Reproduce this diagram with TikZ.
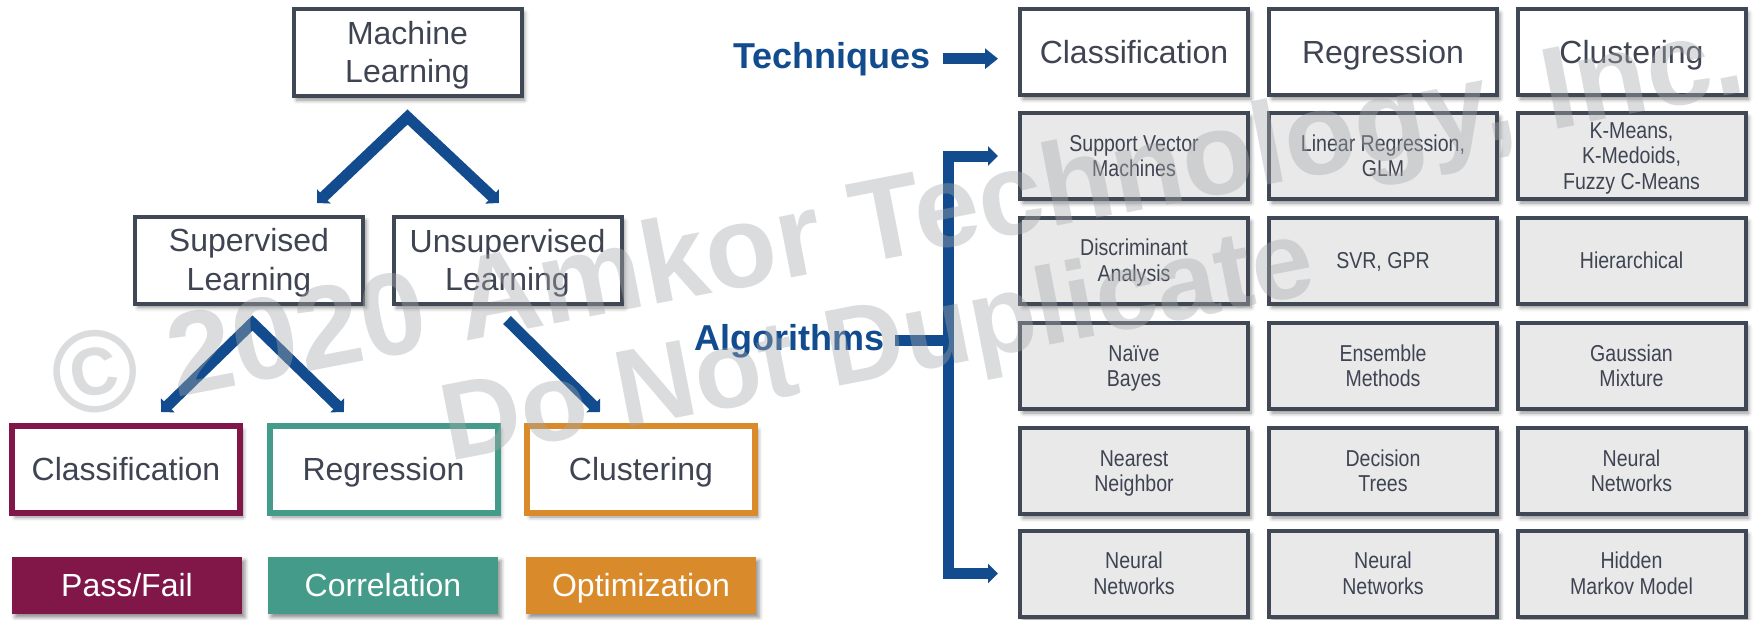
\documentclass[tikz,border=0pt]{standalone}
\usepackage{fontspec}
\setmainfont{Liberation Sans}
\newfontfamily\narrowfont[FakeStretch=0.85]{Liberation Sans}
\usetikzlibrary{arrows.meta,shadows.blur}
\definecolor{bordc}{HTML}{414855}
\definecolor{txtc}{HTML}{3E4452}
\definecolor{cellc}{HTML}{E9E9EA}
\definecolor{blu}{HTML}{124C8E}
\definecolor{maroonc}{HTML}{801748}
\definecolor{tealc}{HTML}{449B89}
\definecolor{orangec}{HTML}{D98B2B}
\definecolor{wmc}{HTML}{A6A8AB}
\newcommand{\pptstrut}{\rule[-0.212em]{0pt}{1.117em}}
\newcommand{\botstrut}{\rule[-0.212em]{0pt}{0.212em}}
\newcommand{\twolines}[2]{\pptstrut#1\\#2\botstrut}
\newcommand{\threelines}[3]{\pptstrut#1\\#2\\#3\botstrut}
\begin{document}
\begin{tikzpicture}[x=1pt,y=-1pt,
  shad/.style={blur shadow={shadow xshift=3pt,shadow yshift=-4pt,shadow blur radius=4pt,shadow opacity=45}},
  oneline/.style={execute at begin node=\pptstrut,execute at end node=\pptstrut},
  bigbox/.style={draw=bordc,line width=4pt,fill=white,minimum width=228pt,minimum height=87pt,inner sep=0pt,align=center,text=txtc,font=\fontsize{32}{38.4}\selectfont,shad},
  colbox/.style={bigbox,draw=#1,line width=6pt,minimum width=228pt,minimum height=87pt,oneline},
  tagbox/.style={fill=#1,minimum width=230pt,minimum height=57pt,inner sep=0pt,text=white,font=\fontsize{32}{38}\selectfont,shad,oneline},
  hdrbox/.style={bigbox,oneline,minimum height=86pt},
  cellbox/.style={draw=bordc,line width=4pt,fill=cellc,minimum width=228pt,minimum height=86pt,inner sep=0pt,align=center,text=txtc,font=\narrowfont\fontsize{23}{25.5}\selectfont,shad},
  lbl/.style={text=blu,font=\bfseries\fontsize{36}{40}\selectfont,inner sep=0pt},
  bline/.style={draw=blu,line width=11pt,line join=miter},
  diagtips/.style={{Triangle[width=19pt,length=9.5pt]}-{Triangle[width=19pt,length=9.5pt]}},
  brktips/.style={{Triangle[width=19pt,length=10pt]}-{Triangle[width=19pt,length=10pt]}},
  wm/.style={text=wmc,text opacity=0.4,font=\bfseries\fontsize{#1}{#1}\selectfont,inner sep=0pt,rotate=11}
]
\useasboundingbox (0,0) rectangle (1754,619);

% left tree
\node[bigbox] (ml) at (407.5,52.5) {\twolines{Machine}{Learning}};
\node[bigbox] (sup) at (249,260) {\twolines{Supervised}{Learning}};
\node[bigbox] (uns) at (507.5,260.5) {\twolines{Unsupervised}{Learning}};
\node[colbox=maroonc] (cls) at (126,469.5) {Classification};
\node[colbox=tealc] (reg) at (383.5,469.5) {Regression};
\node[colbox=orangec] (clu) at (641,469.5) {Clustering};
\node[tagbox=maroonc] (pf) at (127,585) {Pass/Fail};
\node[tagbox=tealc] (cor) at (383,585) {Correlation};
\node[tagbox=orangec] (opt) at (641,585) {Optimization};

\coordinate (a1) at ([yshift=-19pt]ml.south);
\coordinate (a1l) at (317,203);
\coordinate (a1r) at (499,203);
\draw[bline,diagtips] (a1l) -- (a1) -- (a1r);
\coordinate (a2) at (252.5,323);
\coordinate (a2l) at (161,412);
\coordinate (a2r) at (344,412);
\draw[bline,diagtips] (a2l) -- (a2) -- (a2r);
\coordinate (a3) at (507,320);
\coordinate (a3r) at (600,412);
\draw[bline,-{Triangle[width=19pt,length=9.5pt]}] (a3) -- (a3r);

% labels
\node[lbl,anchor=base east] (tech) at (931,68) {Techniques};
\node[lbl,anchor=base east] (alg) at (885,350) {Algorithms};

% grid
\node[hdrbox] (h1) at (1134,52) {Classification};
\node[hdrbox] (h2) at (1383,52) {Regression};
\node[hdrbox] (h3) at (1631.5,52) {Clustering};

\node[cellbox] (g11) at (1134,156) {\twolines{Support Vector}{Machines}};
\node[cellbox] (g12) at (1383,156) {\twolines{Linear Regression,}{GLM}};
\node[cellbox] (g13) at (1631.5,156) {\threelines{K-Means,}{K-Medoids,}{Fuzzy C-Means}};

\node[cellbox] (g21) at (1134,260.5) {\twolines{Discriminant}{Analysis}};
\node[cellbox,oneline] (g22) at (1383,260.5) {SVR, GPR};
\node[cellbox,oneline] (g23) at (1631.5,260.5) {Hierarchical};

\node[cellbox] (g31) at (1134,366) {\twolines{Naïve}{Bayes}};
\node[cellbox] (g32) at (1383,366) {\twolines{Ensemble}{Methods}};
\node[cellbox] (g33) at (1631.5,366) {\twolines{Gaussian}{Mixture}};

\node[cellbox] (g41) at (1134,471) {\twolines{Nearest}{Neighbor}};
\node[cellbox] (g42) at (1383,471) {\twolines{Decision}{Trees}};
\node[cellbox] (g43) at (1631.5,471) {\twolines{Neural}{Networks}};

\node[cellbox] (g51) at (1134,573.5) {\twolines{Neural}{Networks}};
\node[cellbox] (g52) at (1383,573.5) {\twolines{Neural}{Networks}};
\node[cellbox] (g53) at (1631.5,573.5) {\twolines{Hidden}{Markov Model}};

% techniques arrow
\coordinate (techend) at ([xshift=-20pt]h1.west);
\draw[bline,-{Triangle[width=20pt,length=13pt]}] ([xshift=12pt]tech.east) -- (tech.east -| techend);

% algorithms bracket
\coordinate (brk) at ([xshift=63pt]alg.east);
\coordinate (tt) at ([xshift=-20pt]g11.west);
\coordinate (bt) at ([xshift=-20pt]g51.west);
\draw[bline] ([xshift=10pt]alg.east) -- (brk);
\draw[bline,brktips] (tt) -| (brk) |- (bt);

% watermark
\node[wm=117,anchor=base west] (wm1) at (60,420) {© 2020 Amkor Technology, Inc.};
\node[wm=110,anchor=base west] (wm2) at (449,462) {Do Not Duplicate};
\end{tikzpicture}
\end{document}
